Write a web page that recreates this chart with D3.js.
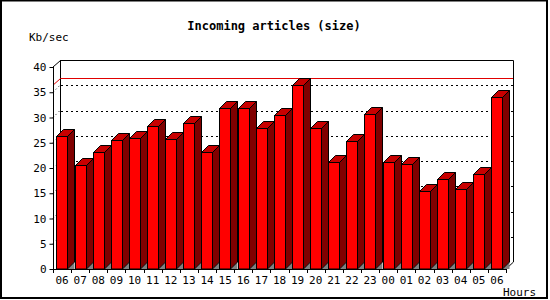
<!DOCTYPE html>
<html>
<head>
<meta charset="utf-8">
<script src="https://cdn.jsdelivr.net/npm/d3@7"></script>
<style>
  body { margin: 0; background: #fff; }
  text { font-family: "DejaVu Sans Mono", monospace; }
</style>
</head>
<body>
<div id="chart"></div>
<script>
// data
const hours = ["06","07","08","09","10","11","12","13","14","15","16","17","18",
               "19","20","21","22","23","00","01","02","03","04","05","06"];
const kbPerSec = [26.3, 20.6, 23.1, 25.5, 25.9, 28.3, 25.7, 29.0, 23.1, 31.8, 31.8, 28.0, 30.4,
                  36.4, 27.9, 21.2, 25.3, 30.6, 21.2, 20.7, 15.4, 17.9, 15.8, 18.8, 34.1];
const yTicks = [0, 5, 10, 15, 20, 25, 30, 35, 40];

const width = 550, height = 300;
const margin = {top: 67, left: 53, right: 37, bottom: 31};
const depth = 7;

const svg = d3.select("#chart")
  .append("svg")
  .attr("width", width)
  .attr("height", height);

// outer frame
svg.append("rect")
  .attr("x", 1).attr("y", 0.5)
  .attr("width", 546).attr("height", 297.5)
  .attr("fill", "#fff")
  .attr("stroke", "#000")
  .attr("stroke-width", 2);

// scales
const xScale = d3.scaleBand()
  .domain(d3.range(hours.length))
  .range([margin.left, width - margin.right - depth]);

const yScale = d3.scaleLinear()
  .domain([0, 40])
  .range([height - margin.bottom, margin.top]);

const x0 = margin.left, x1 = width - margin.right - depth;
const y0 = yScale(0), yTop = yScale(40);

// back wall grid (dotted)
svg.append("g").selectAll("line")
  .data(yTicks.filter(d => d > 0 && d < 40))
  .enter().append("line")
    .attr("x1", x0 + depth + 1).attr("x2", x1 + depth)
    .attr("y1", d => Math.round(yScale(d) - depth) + 0.5)
    .attr("y2", d => Math.round(yScale(d) - depth) + 0.5)
    .attr("stroke", "#000")
    .attr("stroke-dasharray", "2,3");

// left wall grid (dotted diagonals)
svg.append("g").selectAll("line")
  .data(yTicks.filter(d => d > 0 && d < 40))
  .enter().append("line")
    .attr("x1", x0).attr("x2", x0 + depth)
    .attr("y1", d => yScale(d)).attr("y2", d => yScale(d) - depth)
    .attr("stroke", "#000")
    .attr("stroke-dasharray", "1,3");

// frame of the back wall
svg.append("path")
  .attr("d", `M${x0},${yTop} L${x0 + depth + 0.5},${yTop - depth + 0.5} L${x1 + depth + 0.5},${yTop - depth + 0.5}
              L${x1 + depth + 0.5},${y0 - depth} L${x1},${y0}`)
  .attr("fill", "none")
  .attr("stroke", "#000");
svg.append("line")
  .attr("x1", x0 + depth + 0.5).attr("x2", x0 + depth + 0.5)
  .attr("y1", yTop - depth).attr("y2", y0 - depth)
  .attr("stroke", "#000");

// maximum line
const maxVal = d3.max(kbPerSec);
svg.append("path")
  .attr("d", `M${x0},${yScale(maxVal)} L${x0 + depth + 0.5},${Math.round(yScale(maxVal) - depth) + 0.5}
              L${x1 + depth},${Math.round(yScale(maxVal) - depth) + 0.5}`)
  .attr("fill", "none")
  .attr("stroke", "#e00000");

// bars
const barW = 11;
const bars = svg.append("g").selectAll("g")
  .data(kbPerSec)
  .enter().append("g");

function bx(i) { return Math.round(xScale(i) + 3.4) + 0.5; }

// floor shadow
bars.append("path")
  .attr("d", (d, i) => {
    const xr = bx(i) + barW;
    return `M${xr},${y0} L${xr + depth},${y0 - depth} L${xr + depth},${y0} Z`;
  })
  .attr("fill", "#808080");

// side face
bars.append("path")
  .attr("d", (d, i) => {
    const xr = bx(i) + barW, yt = Math.round(yScale(d)) + 0.5;
    return `M${xr},${yt} L${xr + depth},${yt - depth} L${xr + depth},${y0 - depth} L${xr},${y0} Z`;
  })
  .attr("fill", "#800000")
  .attr("stroke", "#000");

// top face
bars.append("path")
  .attr("d", (d, i) => {
    const xl = bx(i), yt = Math.round(yScale(d)) + 0.5;
    return `M${xl},${yt} L${xl + depth},${yt - depth} L${xl + barW + depth},${yt - depth} L${xl + barW},${yt} Z`;
  })
  .attr("fill", "#c80000")
  .attr("stroke", "#000");

// front face
bars.append("rect")
  .attr("x", (d, i) => bx(i))
  .attr("y", d => Math.round(yScale(d)) + 0.5)
  .attr("width", barW)
  .attr("height", d => y0 - Math.round(yScale(d)) - 0.5)
  .attr("fill", "#ff0000")
  .attr("stroke", "#000");

// y axis
const yAxis = svg.append("g")
  .attr("transform", `translate(${x0 + 0.5},0)`)
  .call(d3.axisLeft(yScale).tickValues(yTicks).tickSize(4).tickPadding(3));
yAxis.select(".domain").attr("d", `M0,${yTop}V${y0}`);

// x axis
const xAxis = svg.append("g")
  .attr("transform", `translate(0,${y0 + 0.5})`)
  .call(d3.axisBottom(xScale).tickSize(0).tickPadding(7).tickFormat(i => hours[i]));
xAxis.select(".domain").attr("d", `M${x0},0H${x1}`);

// ticks at band edges
svg.append("g").selectAll("line")
  .data(d3.range(hours.length + 1))
  .enter().append("line")
    .attr("x1", i => Math.round(x0 + i * xScale.step()) + 0.5)
    .attr("x2", i => Math.round(x0 + i * xScale.step()) + 0.5)
    .attr("y1", y0).attr("y2", y0 + 4)
    .attr("stroke", "#000");

svg.selectAll(".tick text")
  .attr("font-family", "DejaVu Sans Mono")
  .attr("font-size", 11)
  .attr("fill", "#000");
svg.selectAll(".domain, .tick line").attr("stroke", "#000");

// labels
svg.append("text")
  .attr("x", 274).attr("y", 30)
  .attr("text-anchor", "middle")
  .attr("font-size", 12)
  .attr("font-weight", "bold")
  .text("Incoming articles (size)");

svg.append("text")
  .attr("x", 29).attr("y", 41)
  .attr("font-size", 11)
  .text("Kb/sec");

svg.append("text")
  .attr("x", 503).attr("y", 296)
  .attr("font-size", 11)
  .text("Hours");
</script>
</body>
</html>
